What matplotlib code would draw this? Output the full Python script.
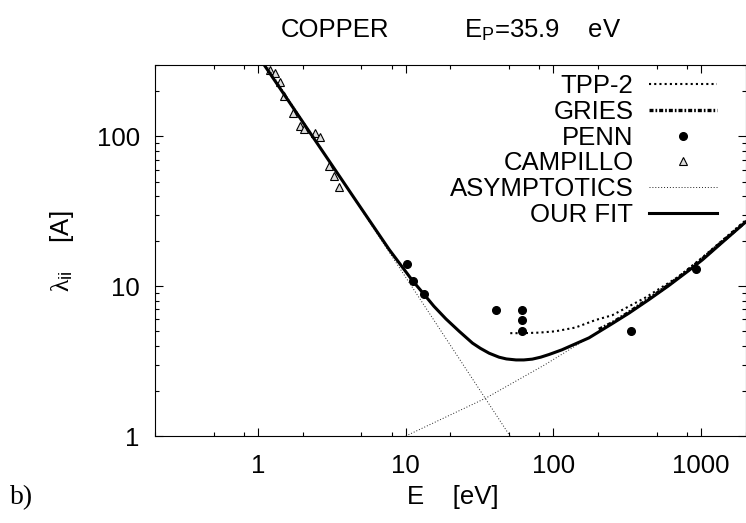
import numpy as np
import matplotlib
matplotlib.use('Agg')
import matplotlib.pyplot as plt
from matplotlib.ticker import LogLocator, FixedLocator, FuncFormatter, NullFormatter

plt.rcParams['font.family'] = ['Liberation Sans', 'DejaVu Sans']
plt.rcParams['mathtext.fontset'] = 'custom'
plt.rcParams['mathtext.rm'] = 'Liberation Sans'
plt.rcParams['mathtext.it'] = 'Liberation Serif'

# --- data ---
fit_e = [1.0, 1.094, 4.56, 7.74, 11.1, 13.2, 15.5, 18.7, 23, 28.3, 32, 36.7, 42.8, 48,
         55.8, 63, 71.9, 82, 93.3, 114, 174, 249, 324, 442, 603, 823, 1024, 1313, 2000]
fit_l = [345, 302, 37.7, 17.5, 10.9, 8.9, 7.35, 6.05, 5.0, 4.17, 3.85, 3.57, 3.36, 3.27,
         3.22, 3.22, 3.26, 3.36, 3.50, 3.76, 4.52, 5.61, 6.60, 8.12, 10.08, 12.70, 15.04, 18.66, 26.8]

tpp_e = [51, 62, 80, 103, 141, 193, 250, 420, 705, 1000, 2000]
tpp_l = [4.86, 4.86, 4.9, 5.0, 5.3, 5.95, 6.4, 8.4, 11.6, 15.3, 27.5]

gries_e = [203, 250, 324, 442, 603, 823, 1024, 1313, 2000]
gries_l = [5.15, 5.7, 6.7, 8.25, 10.2, 12.9, 15.3, 18.9, 27.0]

penn_e = [10.2, 11.1, 13.2, 40.7, 61, 61, 61, 337, 922]
penn_l = [14.1, 10.9, 8.9, 6.96, 6.96, 5.97, 4.99, 4.99, 13.0]

camp_e = [1.196, 1.307, 1.413, 1.494, 1.711, 1.907, 2.04, 2.435, 2.633, 3.008, 3.25, 3.515]
camp_l = [276, 267, 231, 186, 144, 117, 112.6, 104.7, 98.5, 63.3, 54.8, 45.8]

asy_low_e = [1.0, 50.8]
asy_low_l = [362, 1.0]
asy_high_e = [10, 34.8, 88, 212, 442, 1024, 2000]
asy_high_l = [1.0, 1.79, 3.0, 5.12, 8.1, 15.0, 26.8]

W, H = 746, 523
fs = 18.5

fig = plt.figure(figsize=(W / 100, H / 100), dpi=100)
ax = fig.add_axes([155 / W, (H - 436) / H, 590.5 / W, 371 / H])

ax.plot(tpp_e, tpp_l, color='black', lw=1.5, ls=(0, (1, 1.5)), label='TPP-2')
ax.plot(gries_e, gries_l, color='black', lw=2.4, ls=(0, (1.2, 0.6, 0.5, 0.6)), label='GRIES')
ax.plot(penn_e, penn_l, 'o', color='black', ms=5.5, label='PENN')
ax.plot(camp_e, camp_l, '^', mfc='#dddddd', mec='black', mew=0.8, ms=5.5, label='CAMPILLO')
ax.plot(asy_low_e, asy_low_l, color='#222222', lw=0.7, ls=(0, (1, 2)), label='ASYMPTOTICS')
ax.plot(asy_high_e, asy_high_l, color='#222222', lw=0.7, ls=(0, (1, 2)))
ax.plot(fit_e, fit_l, color='black', lw=2.2, label='OUR FIT')

ax.set_xscale('log')
ax.set_yscale('log')
ax.set_xlim(0.2, 2000)
ax.set_ylim(1, 300)

ax.xaxis.set_major_locator(FixedLocator([1, 10, 100, 1000]))
ax.xaxis.set_minor_locator(LogLocator(base=10, subs=(2, 5, 8), numticks=20))
ax.yaxis.set_major_locator(FixedLocator([1, 10, 100]))
ax.yaxis.set_minor_locator(LogLocator(base=10, subs=np.arange(2, 10), numticks=20))
fmt = FuncFormatter(lambda v, p: '%g' % v)
ax.xaxis.set_major_formatter(fmt)
ax.yaxis.set_major_formatter(fmt)
ax.xaxis.set_minor_formatter(NullFormatter())
ax.yaxis.set_minor_formatter(NullFormatter())

ax.tick_params(which='both', direction='in', top=True, right=True, width=0.8)
ax.tick_params(which='major', length=6, labelsize=fs)
ax.tick_params(which='minor', length=3)
ax.tick_params(axis='x', pad=13)
ax.tick_params(axis='y', pad=11)
for s in ax.spines.values():
    s.set_linewidth(0.8)

leg = ax.legend(loc='upper right', bbox_to_anchor=(717 / W, (H - 74) / H),
                bbox_transform=fig.transFigure, frameon=False, markerfirst=False,
                fontsize=fs, handlelength=2.65, handletextpad=0.6,
                labelspacing=0.07, borderpad=0, borderaxespad=0, numpoints=1)

fig.text(281 / W, 1 - 37 / H, 'COPPER', fontsize=fs, ha='left', va='baseline')
fig.text(464 / W, 1 - 37 / H, r'E$_{\mathrm{P}}$=35.9    eV', fontsize=fs, ha='left', va='baseline')
fig.text(453 / W, 1 - 497 / H, 'E    [eV]', fontsize=fs, ha='center', va='center')
fig.text(62 / W, 1 - 251 / H, r'$\lambda_{\mathrm{ii}}$    [A]', fontsize=fs,
         ha='center', va='center', rotation=90)
fig.text(10 / W, 1 - 498 / H, 'b)', fontsize=20, family='Liberation Serif', ha='left', va='center')

fig.savefig('out.png', dpi=100)
